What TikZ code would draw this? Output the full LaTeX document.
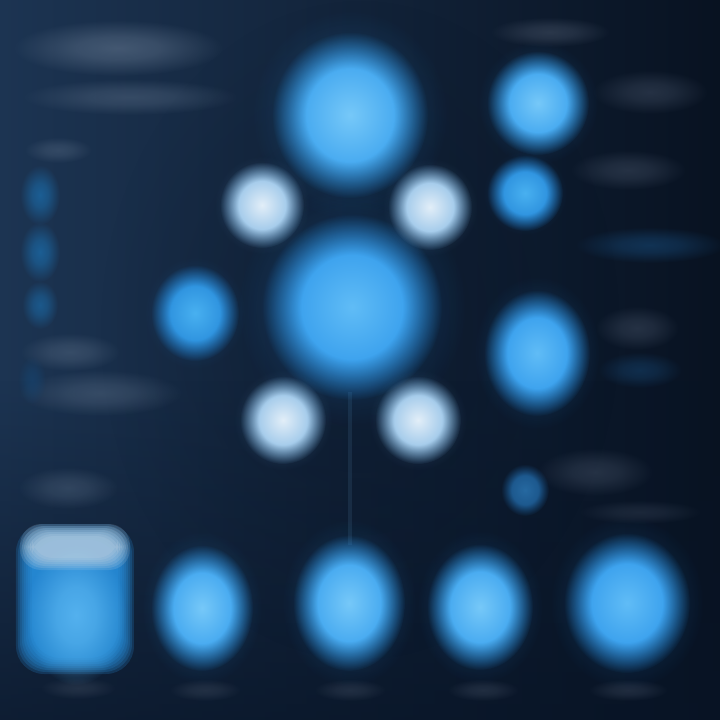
\documentclass[tikz,border=0pt]{standalone}
\usetikzlibrary{fadings}
\pgfdeclareradialshading{orbfadeshade}{\pgfpointorigin}{color(0bp)=(white); color(14bp)=(white); color(25bp)=(black); color(50bp)=(black)}
\pgfdeclarefading{orbfade}{\pgfuseshading{orbfadeshade}}
\pgfdeclareradialshading{smudgeshade}{\pgfpointorigin}{color(0bp)=(white); color(10bp)=(white!75!black); color(25bp)=(black); color(50bp)=(black)}
\pgfdeclarefading{smudgefade}{\pgfuseshading{smudgeshade}}
\pgfdeclareradialshading{haloshade}{\pgfpointorigin}{color(0bp)=(white!70!black); color(25bp)=(black); color(50bp)=(black)}
\pgfdeclarefading{halofade}{\pgfuseshading{haloshade}}
\pgfdeclareverticalshading{bottomshade}{100bp}{color(0bp)=(white); color(25bp)=(white); color(75bp)=(black); color(100bp)=(black)}
\pgfdeclarefading{bottomfade}{\pgfuseshading{bottomshade}}
\definecolor{bgL}{RGB}{28,52,82}
\definecolor{bgR}{RGB}{8,18,33}
\definecolor{bgB}{RGB}{8,20,38}
\definecolor{greyc}{RGB}{90,110,135}
\definecolor{dimc}{RGB}{55,68,88}
\definecolor{patchc}{RGB}{28,105,165}
\definecolor{patchd}{RGB}{22,70,115}
\definecolor{bInA}{RGB}{118,200,248}
\definecolor{bOutA}{RGB}{40,150,235}
\definecolor{bInB}{RGB}{96,188,246}
\definecolor{bOutB}{RGB}{36,144,232}
\definecolor{wIn}{RGB}{226,238,248}
\definecolor{wHalo}{RGB}{120,178,225}
\definecolor{lIn}{RGB}{72,176,240}
\definecolor{lOut}{RGB}{30,128,212}
\definecolor{dIn}{RGB}{45,125,190}
\definecolor{dOut}{RGB}{25,90,150}
\definecolor{rectc}{RGB}{40,150,232}
\definecolor{bandc}{RGB}{200,214,226}
\definecolor{linkc}{RGB}{45,75,105}
\tikzset{
  orb/.style 2 args={inner color=#1, outer color=#2, path fading=orbfade},
  halo/.style={fill=#1, path fading=halofade},
  smudge/.style={fill=#1, path fading=smudgefade},
  link/.style={draw=linkc, line width=1.2pt, opacity=.35},
}
\newcommand\myorb[6]{%
  \path[halo=#6, opacity=.45] (#1,#2) ellipse ({1.4*#3} and {1.4*#4});
  \path[orb={#5}{#6}] (#1,#2) ellipse ({#3+8} and {#4+8});
}
\begin{document}
\begin{tikzpicture}[x=0.01cm,y=-0.01cm]
\useasboundingbox (0,0) rectangle (720,720);
\shade[left color=bgL, right color=bgR] (0,0) rectangle (720,720);
\fill[bgB, path fading=bottomfade, opacity=.7] (0,380) rectangle (720,720);
\fill[bgB, path fading=smudgefade, opacity=.35] (360,330) ellipse (260 and 330);
% blurred text smudges, left
\path[smudge=greyc, opacity=.65] (118,48) ellipse (105 and 28);
\path[smudge=greyc, opacity=.45] (130,97) ellipse (108 and 18);
\path[smudge=greyc, opacity=.4] (58,150) ellipse (34 and 13);
\path[smudge=patchc, opacity=.8] (40,195) ellipse (20 and 30);
\path[smudge=patchc, opacity=.8] (40,252) ellipse (20 and 30);
\path[smudge=patchc, opacity=.7] (40,305) ellipse (18 and 24);
\path[smudge=greyc, opacity=.45] (70,352) ellipse (50 and 19);
\path[smudge=greyc, opacity=.45] (100,393) ellipse (82 and 23);
\path[smudge=patchd, opacity=.6] (32,380) ellipse (14 and 24);
\path[smudge=greyc, opacity=.4] (68,488) ellipse (50 and 21);
% blurred text smudges, right
\path[smudge=dimc, opacity=.7] (550,32) ellipse (60 and 15);
\path[smudge=dimc, opacity=.6] (650,92) ellipse (58 and 22);
\path[smudge=dimc, opacity=.6] (628,170) ellipse (58 and 20);
\path[smudge=patchd, opacity=.6] (650,245) ellipse (75 and 18);
\path[smudge=dimc, opacity=.6] (637,328) ellipse (42 and 22);
\path[smudge=patchd, opacity=.5] (640,370) ellipse (42 and 18);
\path[smudge=dimc, opacity=.6] (595,472) ellipse (58 and 24);
\path[smudge=dimc, opacity=.4] (640,512) ellipse (62 and 12);
% labels under bottom row
\path[smudge=dimc, opacity=.5] (78,688) ellipse (38 and 11);
\path[smudge=dimc, opacity=.5] (205,690) ellipse (36 and 11);
\path[smudge=dimc, opacity=.5] (350,690) ellipse (36 and 11);
\path[smudge=dimc, opacity=.5] (483,690) ellipse (36 and 11);
\path[smudge=dimc, opacity=.5] (628,690) ellipse (40 and 11);
% connector
\coordinate (midc) at (350,392);
\coordinate (botc) at (350,545);
\draw[link] (midc) -- (botc);
% central orbs
\myorb{350}{115}{70}{75}{bInA}{bOutA}
\myorb{352}{307}{82}{85}{bInB}{bOutB}
\myorb{262}{205}{34}{35}{wIn}{wHalo}
\myorb{430}{207}{34}{35}{wIn}{wHalo}
\myorb{283}{420}{35}{36}{wIn}{wHalo}
\myorb{418}{420}{35}{36}{wIn}{wHalo}
\myorb{195}{313}{36}{40}{lIn}{lOut}
% right column
\myorb{538}{103}{43}{44}{bInA}{bOutA}
\myorb{525}{193}{30}{30}{lIn}{lOut}
\myorb{537}{353}{45}{55}{bInB}{bOutB}
\path[orb={dIn}{dOut}, opacity=.8] (525,490) ellipse (24 and 26);
% bottom row
\foreach \d in {0,2,...,16} {
  \fill[rectc, opacity=.2, rounded corners=8] (16+\d,524+\d) rectangle (134-\d,674-\d);
}
\path[smudge=bInB, opacity=.8] (76,615) ellipse (50 and 70);
\foreach \d in {0,2,...,12} {
  \fill[bandc, opacity=.17, rounded corners=6] (20+\d,524+\d) rectangle (130-\d,570-\d);
}
\myorb{202}{608}{43}{55}{bInA}{bOutA}
\myorb{349}{603}{48}{60}{bInA}{bOutA}
\myorb{480}{607}{45}{55}{bInA}{bOutA}
\myorb{627}{603}{55}{62}{bInB}{bOutB}
\end{tikzpicture}
\end{document}
